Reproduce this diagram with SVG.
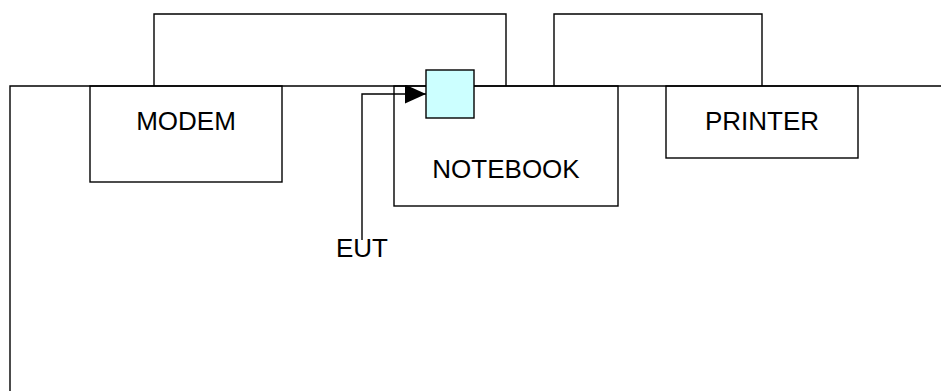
<svg xmlns="http://www.w3.org/2000/svg" width="941" height="391" viewBox="0 0 941 391">
<style>
.ln{fill:none;stroke:#000;stroke-width:1.4}
.box{fill:none;stroke:#000;stroke-width:1.4}
.lbl{font-family:"Liberation Sans",Arial,sans-serif;font-size:26px;fill:#000;text-anchor:middle}
</style>
<defs>
<marker id="arr" markerWidth="21" markerHeight="19" refX="21" refY="9.5" orient="auto" markerUnits="userSpaceOnUse">
<path d="M0,0 L21,9.5 L0,19 Z" fill="#000"/>
</marker>
</defs>
<rect width="941" height="391" fill="#fff"/>
<g id="connectors">
<path class="ln" d="M10,391 V86 H941"/>
<path class="ln" d="M154,86 V14 H506 V86"/>
<path class="ln" d="M554,86 V14 H762 V86"/>
<path class="ln" d="M362,240 V94 H426" marker-end="url(#arr)"/>
</g>
<g id="modem">
<rect class="box" x="90" y="86" width="192" height="96"/>
<text class="lbl" x="186" y="130">MODEM</text>
</g>
<g id="notebook">
<rect class="box" x="394" y="86" width="224" height="120"/>
<text class="lbl" x="506" y="178">NOTEBOOK</text>
</g>
<g id="printer">
<rect class="box" x="666" y="86" width="192" height="72"/>
<text class="lbl" x="762" y="130">PRINTER</text>
</g>
<g id="eut-port">
<rect x="426" y="70" width="48" height="48" fill="#CCFFFF" stroke="#000" stroke-width="1.4"/>
</g>
<g id="eut-label">
<text class="lbl" x="362" y="257">EUT</text>
</g>
</svg>
